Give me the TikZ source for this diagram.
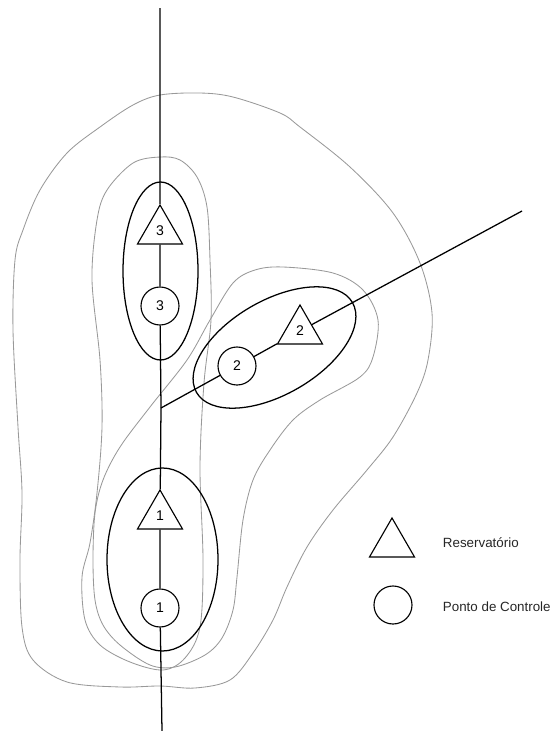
\documentclass[tikz,border=0pt]{standalone}
\usepackage{fontspec}
\setmainfont{Liberation Sans}
\usetikzlibrary{shapes.geometric}

\begin{document}
\begin{tikzpicture}[x=0.025cm, y=-0.025cm,
    contorno/.style={draw=black!40, line width=0.6pt},
    bacia/.style={draw=black, line width=0.9pt},
    rio/.style={draw=black, line width=0.9pt},
    reserv/.style={draw, fill=white, line width=0.8pt, regular polygon, regular polygon sides=3,
      inner sep=0pt, minimum size=1.3cm, font=\fontsize{10}{10}\selectfont},
    ponto/.style={draw, fill=white, line width=0.8pt, circle, inner sep=0pt,
      minimum size=0.95cm, font=\fontsize{10}{10}\selectfont},
    legenda/.style={anchor=west, text=black!85, font=\fontsize{9.5}{10}\selectfont}]
  \useasboundingbox (0,0) rectangle (558,731);

  % contornos das areas de drenagem
  \draw[contorno] plot[smooth cycle, tension=0.55] coordinates {
    (160,95) (200,93) (233,97) (280,113) (300,127) (350,167) (393,213) (420,263)
    (432,313) (428,360) (417,393) (393,437) (367,470) (333,510) (307,547) (287,587)
    (273,620) (253,653) (230,680) (195,688) (160,686) (120,687) (67,682) (33,660)
    (22,627) (20,560) (22,493) (18,427) (13,330) (15,260) (23,230) (40,190)
    (67,153) (100,127) (133,105)};
  \draw[contorno] plot[smooth cycle, tension=0.55] coordinates {
    (160,157) (180,160) (197,177) (207,207) (210,260) (211,320) (204,383) (200,467)
    (203,560) (200,627) (185,658) (163,670) (130,662) (100,645) (85,620) (82,577)
    (90,543) (97,493) (102,427) (100,360) (92,280) (97,220) (107,190) (133,163)};
  \draw[contorno] plot[smooth cycle, tension=0.55] coordinates {
    (283,267) (333,273) (363,290) (378,320) (373,357) (360,377) (320,400) (293,420)
    (270,450) (253,480) (243,520) (237,577) (233,610) (222,638) (205,655) (175,667)
    (150,665) (120,645) (103,625) (95,600) (93,560) (95,513) (103,480) (120,447)
    (150,407) (187,360) (210,320) (233,283) (255,270)};

  % bacias
  \draw[bacia] (160.5,271) ellipse [x radius=37.5, y radius=89];
  \draw[bacia] (162.5,559.5) ellipse [x radius=55.5, y radius=91.5];
  \draw[bacia, rotate around={30:(274.5,347.5)}] (274.5,347.5) ellipse [x radius=90, y radius=47];

  % rios
  \coordinate (topo) at (160,8);
  \coordinate (base) at (162,731);
  \coordinate (jn) at (161,408);
  \coordinate (fim) at (522,211);

  \node[reserv] (tri3) at (160,231) {3};
  \node[ponto] (pc3) at (160,306) {3};
  \node[reserv] (tri2) at (300,331) {2};
  \node[ponto] (pc2) at (237,366) {2};
  \node[reserv] (tri1) at (160,516) {1};
  \node[ponto] (pc1) at (160,608) {1};

  \draw[rio] (topo) -- (tri3) -- (pc3) -- (jn) -- (tri1) -- (pc1) -- (base);
  \draw[rio] (jn) -- (pc2) -- (tri2) -- (fim);

  % legenda
  \node[reserv] (legtri) at (392,544) {};
  \node[ponto] (legpc) at (393,605) {};
  \node[legenda] (legr) at (438,543) {Reservatório};
  \node[legenda] (legp) at (438,607) {Ponto de Controle};
\end{tikzpicture}
\end{document}
